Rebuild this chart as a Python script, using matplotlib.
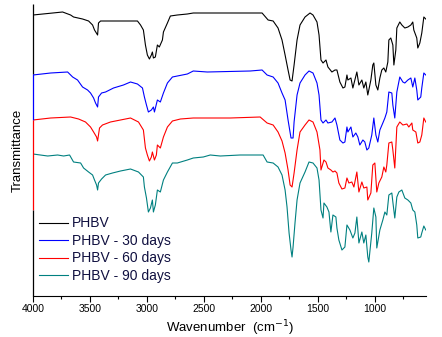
import matplotlib.pyplot as plt

plt.rcParams['font.family'] = ['Liberation Sans', 'DejaVu Sans']

# wavenumber (cm-1) / transmittance (stacked, arbitrary units)
wn_phbv = [4000, 3740, 3670, 3644, 3565, 3512, 3477, 3460, 3433, 3425, 3407, 3083, 3056, 3031,
           3013, 2996, 2978, 2961, 2952, 2943, 2926, 2908, 2891, 2864, 2855, 2820, 2794, 2733,
           2645, 2593, 2444, 1989, 1936, 1892, 1849, 1814, 1787, 1761, 1743, 1726, 1708, 1682,
           1656, 1612, 1568, 1542, 1507, 1489, 1472, 1454, 1428, 1411, 1376, 1349, 1332, 1306,
           1279, 1262, 1244, 1236, 1209, 1192, 1157, 1139, 1113, 1096, 1078, 1061, 1034, 1017,
           1008, 990, 973, 955, 938, 920, 903, 885, 876, 859, 841, 832, 815, 806, 780, 762, 736,
           709, 683, 666, 657, 631, 622, 604, 587, 569, 552]
t_phbv = [280, 283, 280, 278, 276, 274, 270, 265, 260, 272, 274, 274, 270, 265,
          250, 240, 236, 240, 243, 237, 238, 250, 248, 255, 263, 272, 279, 280,
          281, 282, 282, 282, 275, 274, 267, 255, 240, 225, 215, 214, 230, 255,
          270, 278, 282, 280, 273, 260, 235, 232, 235, 228, 223, 225, 225, 213,
          207, 208, 220, 215, 217, 207, 223, 210, 215, 207, 213, 200, 215, 230,
          232, 210, 205, 217, 225, 227, 223, 233, 255, 257, 250, 230, 245, 267, 273, 270, 267,
          268, 270, 273, 265, 257, 247, 252, 262, 278, 276]

wn_30 = [4000, 3845, 3696, 3652, 3609, 3565, 3521, 3495, 3468, 3451, 3433, 3425, 3398, 3363,
         3293, 3206, 3144, 3083, 3039, 3022, 3004, 2987, 2961, 2943, 2934, 2908, 2882, 2855,
         2820, 2776, 2733, 2645, 2593, 2470, 2093, 1989, 1945, 1892, 1849, 1814, 1787, 1761,
         1735, 1717, 1708, 1682, 1656, 1612, 1577, 1542, 1507, 1489, 1472, 1454, 1428, 1411,
         1376, 1349, 1332, 1306, 1279, 1262, 1244, 1236, 1209, 1192, 1166, 1148, 1131, 1104,
         1087, 1069, 1052, 1026, 1008, 990, 973, 955, 929, 911, 894, 876, 850, 841, 824, 806,
         780, 753, 736, 709, 683, 666, 648, 631, 622, 596, 587, 569, 552]
t_30 = [220, 222, 223, 218, 215, 208, 205, 202, 197, 192, 188, 198, 202, 203,
        207, 210, 213, 211, 207, 198, 190, 183, 185, 188, 183, 195, 193, 202,
        212, 218, 219, 221, 224, 223, 224, 225, 220, 218, 212, 202, 195, 175,
        157, 157, 173, 200, 212, 220, 224, 222, 212, 200, 175, 172, 175, 172,
        173, 177, 170, 155, 152, 153, 168, 163, 168, 158, 162, 158, 150, 155,
        153, 145, 147, 160, 177, 160, 153, 165, 172, 177, 183, 203, 202, 190, 177, 203,
        218, 213, 212, 215, 217, 208, 217, 205, 195, 198, 207, 222, 220]

wn_60 = [4000, 3845, 3670, 3600, 3539, 3495, 3468, 3442, 3433, 3416, 3390, 3320, 3232, 3144,
         3074, 3031, 3013, 2996, 2978, 2961, 2952, 2934, 2917, 2908, 2882, 2855, 2820, 2776,
         2706, 2593, 2268, 2006, 1945, 1892, 1849, 1814, 1787, 1761, 1743, 1726, 1708, 1682,
         1656, 1612, 1577, 1542, 1507, 1481, 1472, 1446, 1428, 1411, 1385, 1367, 1349, 1332,
         1315, 1288, 1262, 1244, 1227, 1201, 1183, 1157, 1139, 1113, 1096, 1069, 1061, 1034,
         1017, 999, 982, 964, 938, 920, 903, 894, 876, 850, 841, 824, 806, 780, 753, 718, 701,
         674, 666, 639, 622, 604, 587, 569, 552]
t_60 = [175, 177, 178, 176, 173, 168, 163, 158, 154, 167, 170, 173, 175, 177,
        173, 165, 147, 140, 134, 138, 143, 135, 140, 150, 147, 158, 168, 174,
        176, 177, 177, 178, 172, 170, 163, 154, 142, 125, 110, 108, 122, 145,
        163, 170, 175, 173, 163, 145, 125, 135, 133, 127, 125, 123, 124, 122,
        112, 106, 107, 117, 112, 113, 108, 123, 103, 113, 107, 108, 95, 102,
        130, 132, 103, 112, 118, 128, 123, 130, 152, 153, 145, 127, 168, 173, 170, 171, 168,
        172, 165, 163, 152, 153, 160, 177, 173]

wn_90 = [4000, 3871, 3784, 3731, 3679, 3644, 3582, 3556, 3512, 3477, 3460, 3442, 3433, 3425,
         3398, 3363, 3302, 3232, 3144, 3074, 3031, 3022, 3004, 2987, 2969, 2952, 2943, 2926,
         2908, 2882, 2855, 2820, 2776, 2733, 2645, 2593, 2505, 2444, 2356, 2181, 1980, 1945,
         1892, 1849, 1814, 1787, 1770, 1752, 1735, 1726, 1717, 1700, 1682, 1656, 1612, 1577,
         1542, 1507, 1489, 1472, 1454, 1446, 1420, 1402, 1385, 1367, 1341, 1332, 1315, 1288,
         1262, 1244, 1218, 1192, 1174, 1157, 1139, 1113, 1096, 1078, 1061, 1052, 1026, 1008,
         990, 982, 955, 929, 911, 894, 876, 850, 841, 824, 806, 788, 762, 736, 709, 683, 666,
         648, 631, 622, 596, 587, 569, 552]
t_90 = [141, 139, 140, 139, 140, 133, 132, 127, 123, 120, 115, 110, 105, 112,
        116, 120, 122, 124, 126, 123, 118, 108, 97, 83, 87, 95, 83, 90,
        105, 103, 115, 123, 132, 132, 135, 137, 138, 140, 139, 140, 140, 133,
        132, 128, 120, 105, 88, 62, 45, 38, 48, 72, 95, 112, 123, 133,
        132, 127, 115, 85, 77, 92, 88, 83, 63, 80, 78, 67, 55, 45,
        48, 70, 65, 57, 62, 78, 52, 63, 52, 60, 38, 33, 62, 87,
        78, 47, 65, 75, 83, 80, 100, 102, 93, 77, 98, 103, 105, 97, 95, 92, 85,
        83, 70, 57, 58, 62, 69, 65]

labels = ['PHBV', 'PHBV - 30 days', 'PHBV - 60 days', 'PHBV - 90 days']
colors = ['black', '#0000ff', '#ff0000', '#008080']

fig = plt.figure(figsize=(4.42, 3.37), dpi=100)
ax = fig.add_axes([33 / 442, 1 - 296 / 337, 393 / 442, 292 / 337])

series = [(wn_phbv, t_phbv), (wn_30, t_30), (wn_60, t_60), (wn_90, t_90)]
for (x, y), lab, c in zip(series, labels, colors):
    ax.plot(x, y, color=c, lw=0.8, label=lab)

ax.set_xlim(4000, 550)
ax.set_ylim(-1, 291)

for s in ['top', 'right', 'left']:
    ax.spines[s].set_visible(False)
ax.spines['bottom'].set_linewidth(0.8)

# Origin-style left axis, coloured per layer
for y0, y1, c in [(221, 291, 'black'), (175, 221, '#0000ff'), (85, 175, '#ff0000'), (-1, 85, 'black')]:
    ax.plot([4000, 4000], [y0, y1], color=c, lw=0.9, clip_on=False, solid_capstyle='butt')

ax.set_yticks([])
ax.set_xticks([4000, 3500, 3000, 2500, 2000, 1500, 1000])
ax.set_xticks([3750, 3250, 2750, 2250, 1750, 1250, 750], minor=True)
ax.tick_params(axis='x', which='major', direction='out', length=4, width=0.8, labelsize=7.5, pad=2)
ax.tick_params(axis='x', which='minor', direction='out', length=2.5, width=0.8)

ax.set_xlabel('Wavenumber  (cm$^{-1}$)', fontsize=9.5, labelpad=3)
ax.set_ylabel('Transmittance', fontsize=9.5, labelpad=7)

leg = ax.legend(loc='lower left', bbox_to_anchor=(0.0, 0.026), frameon=False, fontsize=10,
                handlelength=2.1, handletextpad=0.3, labelspacing=0.25,
                borderpad=0.1, borderaxespad=0.3)
for t in leg.get_texts():
    t.set_color('#101040')

fig.savefig('out.png', dpi=100)
